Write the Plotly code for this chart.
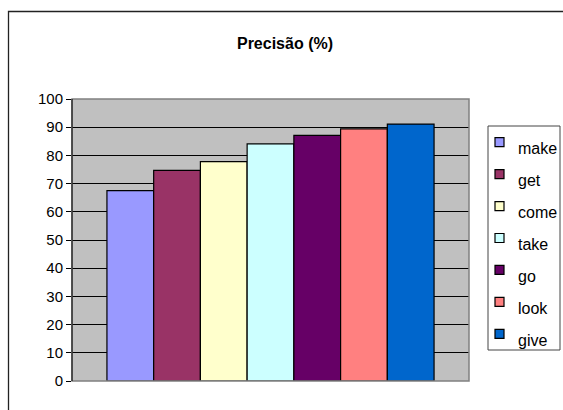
import plotly.graph_objects as go

categories = ["make", "get", "come", "take", "go", "look", "give"]
values = [67.5, 74.7, 77.8, 84.1, 87.1, 89.4, 91.1]
colors = ["#9999FF", "#993366", "#FFFFCC", "#CCFFFF", "#660066", "#FF8080", "#0066CC"]
y_ticks = list(range(0, 101, 10))
title_text = "Precisão (%)"

W, H = 563, 410
L, R, T, B = 72, 469, 99, 381  # plot area pixel bounds
FONT = "Arial, Liberation Sans"


def px(x):
    return (x - L) / (R - L)


def py(y):
    return (B - y) / (B - T)


fig = go.Figure()
for name, val, col in zip(categories, values, colors):
    fig.add_trace(go.Bar(
        x=[""], y=[val], name=name,
        marker=dict(color=col, line=dict(color="black", width=1.2)),
        showlegend=False,
    ))

shapes = []
annotations = []
# plot border (gray)
shapes.append(dict(type="rect", xref="paper", yref="paper", x0=0, x1=1, y0=0, y1=1,
                   line=dict(color="#808080", width=1.5), layer="above"))
# left axis line over border
shapes.append(dict(type="line", xref="paper", yref="paper", x0=0, x1=0, y0=0, y1=1,
                   line=dict(color="black", width=1), layer="above"))
# outer chart border
shapes.append(dict(type="rect", xref="paper", yref="paper",
                   x0=px(8.5), x1=px(600), y0=py(430), y1=py(11.5),
                   line=dict(color="#222222", width=1.3)))
# legend box
shapes.append(dict(type="rect", xref="paper", yref="paper",
                   x0=px(488), x1=px(560), y0=py(350), y1=py(126),
                   line=dict(color="#444444", width=1), fillcolor="white"))
for i, (name, col) in enumerate(zip(categories, colors)):
    cy = 142.2 + i * 31.93
    shapes.append(dict(type="rect", xref="paper", yref="paper",
                       x0=px(495), x1=px(504), y0=py(cy + 4.5), y1=py(cy - 4.5),
                       fillcolor=col, line=dict(color="black", width=1.2)))
    annotations.append(dict(xref="paper", yref="paper", x=px(515.5), y=py(cy + 6.5),
                            text=name, showarrow=False, xanchor="left", yanchor="middle",
                            font=dict(family=FONT, size=16, color="black")))

fig.update_layout(
    width=W, height=H,
    margin=dict(l=L, r=W - R, t=T, b=H - B, pad=0),
    paper_bgcolor="white",
    plot_bgcolor="#C0C0C0",
    barmode="group", bargap=0.176, bargroupgap=0,
    title=dict(text="<b>" + title_text + "</b>", x=285 / W, xanchor="center",
               y=1 - 43 / H, yanchor="middle", yref="container",
               font=dict(family=FONT, size=16, color="black")),
    font=dict(family=FONT, size=15, color="black"),
    showlegend=False,
    shapes=shapes,
    annotations=annotations,
    xaxis=dict(range=[-0.5, 0.5], showticklabels=False, showgrid=False,
               zeroline=False, showline=False, ticks=""),
    yaxis=dict(range=[0, 100], tickvals=y_ticks, showgrid=True, gridcolor="black",
               gridwidth=1, zeroline=False, showline=False, ticks="outside",
               ticklen=5, tickcolor="black", tickwidth=1,
               tickfont=dict(family=FONT, size=15, color="black")),
)

fig.write_html("out.html")
